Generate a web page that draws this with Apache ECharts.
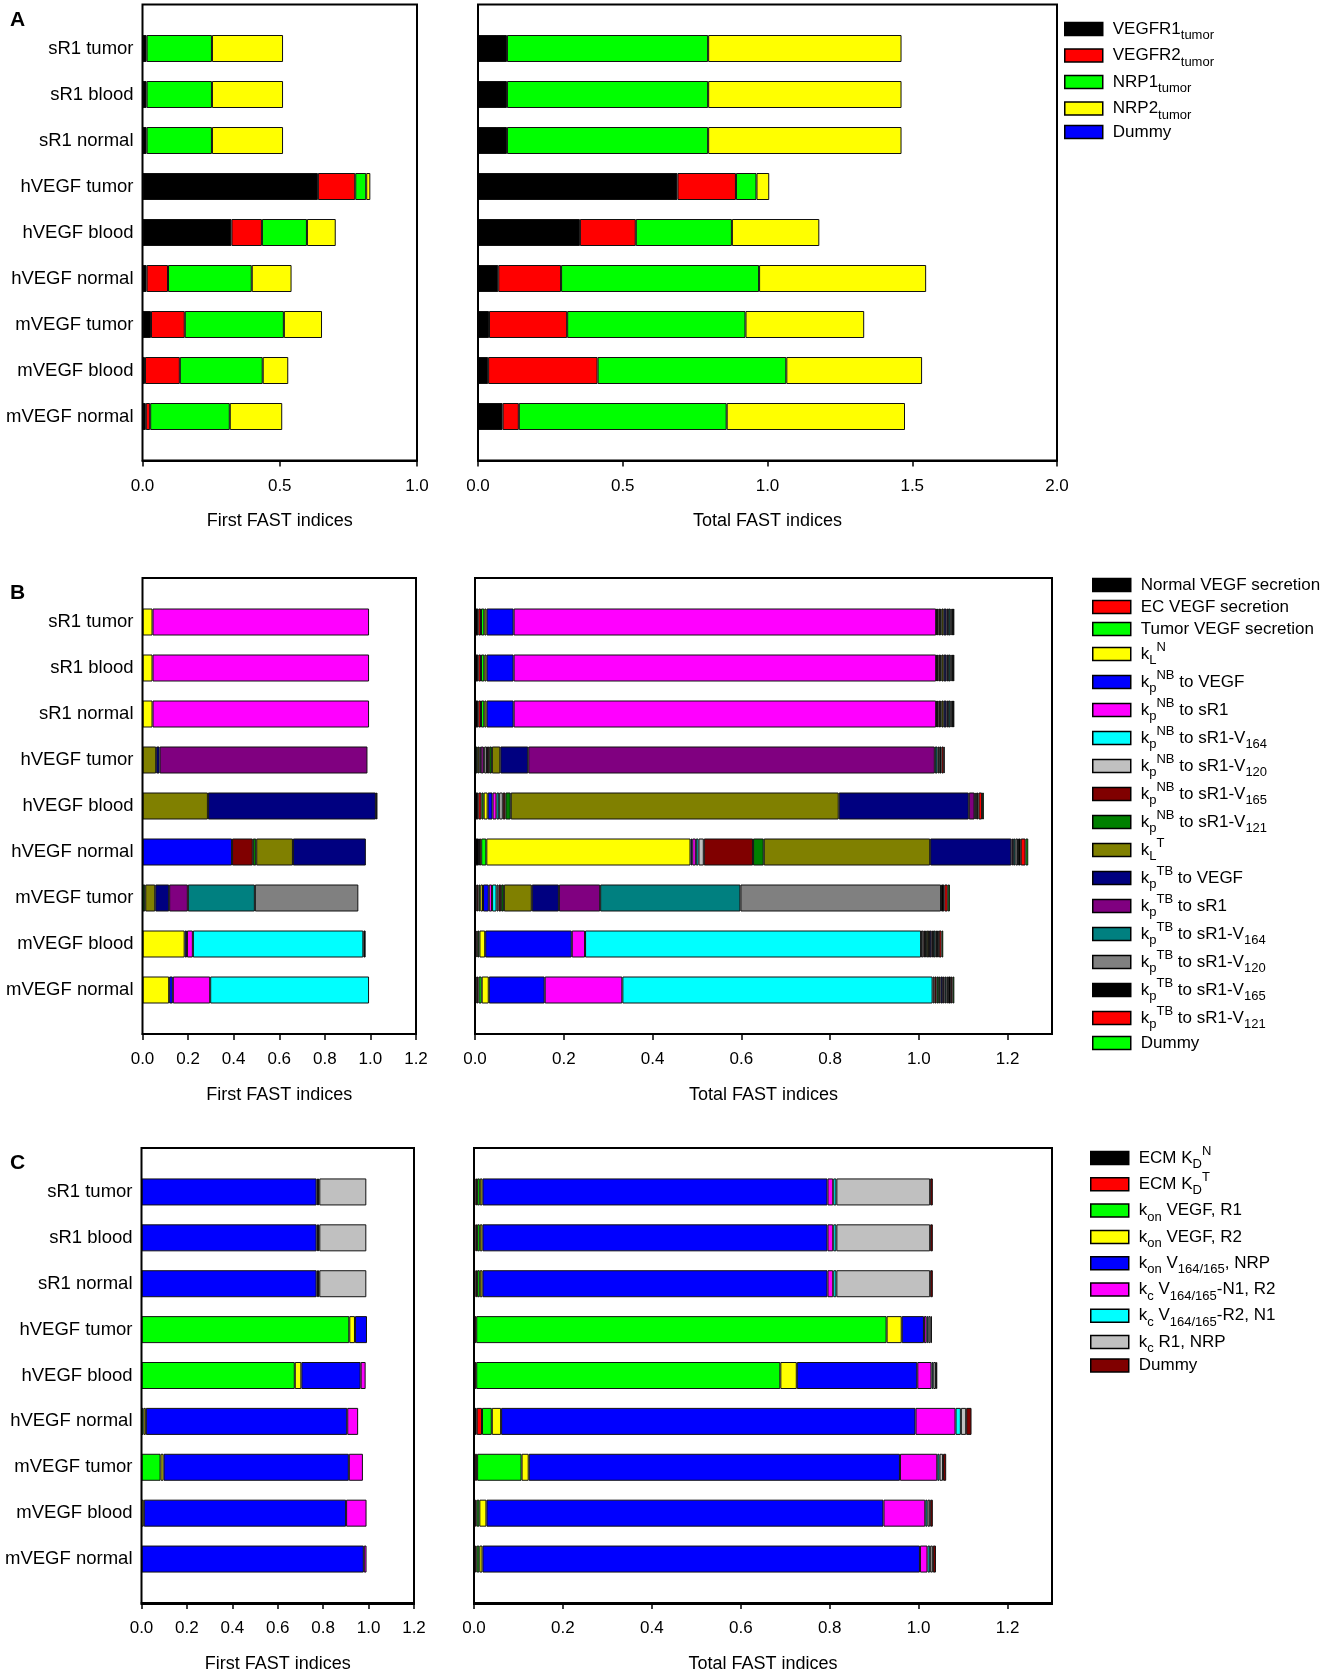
<!DOCTYPE html>
<html>
<head>
<meta charset="utf-8">
<title>FAST indices</title>
<script src="https://cdn.jsdelivr.net/npm/echarts@6/dist/echarts.min.js"></script>
<style>
  html, body { margin: 0; padding: 0; background: #fff; }
  #chart { width: 1323px; height: 1674px; }
</style>
</head>
<body>
<div id="chart"></div>
<script>
// rows of every chart, top to bottom
const categories = ['sR1 tumor', 'sR1 blood', 'sR1 normal', 'hVEGF tumor', 'hVEGF blood',
  'hVEGF normal', 'mVEGF tumor', 'mVEGF blood', 'mVEGF normal'];

// panel A: receptor densities
const namesA = ['VEGFR1{s|tumor}', 'VEGFR2{s|tumor}', 'NRP1{s|tumor}', 'NRP2{s|tumor}', 'Dummy'];
const colorsA = ['#000000', '#ff0000', '#00ff00', '#ffff00', '#0000ff'];
const firstA = [
  [0.015, 0, 0.238, 0.259, 0],
  [0.015, 0, 0.238, 0.259, 0],
  [0.015, 0, 0.238, 0.259, 0],
  [0.639, 0.136, 0.040, 0.015, 0],
  [0.324, 0.111, 0.164, 0.105, 0],
  [0.015, 0.078, 0.305, 0.145, 0],
  [0.031, 0.123, 0.361, 0.139, 0],
  [0.009, 0.127, 0.302, 0.093, 0],
  [0.012, 0.016, 0.290, 0.191, 0]
];
const totalA = [
  [0.100, 0, 0.695, 0.668, 0],
  [0.100, 0, 0.695, 0.668, 0],
  [0.100, 0, 0.695, 0.668, 0],
  [0.689, 0.202, 0.071, 0.044, 0],
  [0.352, 0.193, 0.332, 0.302, 0],
  [0.070, 0.217, 0.684, 0.577, 0],
  [0.038, 0.270, 0.616, 0.410, 0],
  [0.035, 0.378, 0.652, 0.469, 0],
  [0.085, 0.056, 0.718, 0.616, 0]
];

// panel B: secretion and permeability
const namesB = ['Normal VEGF secretion', 'EC VEGF secretion', 'Tumor VEGF secretion', 'k{s|L}{p|N}',
  'k{s|p}{p|NB} to VEGF', 'k{s|p}{p|NB} to sR1', 'k{s|p}{p|NB} to sR1-V{s|164}', 'k{s|p}{p|NB} to sR1-V{s|120}',
  'k{s|p}{p|NB} to sR1-V{s|165}', 'k{s|p}{p|NB} to sR1-V{s|121}', 'k{s|L}{p|T}',
  'k{s|p}{p|TB} to VEGF', 'k{s|p}{p|TB} to sR1', 'k{s|p}{p|TB} to sR1-V{s|164}', 'k{s|p}{p|TB} to sR1-V{s|120}',
  'k{s|p}{p|TB} to sR1-V{s|165}', 'k{s|p}{p|TB} to sR1-V{s|121}', 'Dummy'];
const colorsB = ['#000000', '#ff0000', '#00ff00', '#ffff00', '#0000ff', '#ff00ff', '#00ffff', '#c0c0c0',
  '#800000', '#008000', '#808000', '#000080', '#800080', '#008080', '#808080', '#000000', '#ff0000', '#00ff00'];
const firstB = [
  [0, 0, 0, 0.044, 0, 0.950, 0, 0, 0, 0, 0, 0, 0, 0, 0, 0, 0, 0],
  [0, 0, 0, 0.044, 0, 0.950, 0, 0, 0, 0, 0, 0, 0, 0, 0, 0, 0, 0],
  [0, 0, 0, 0.044, 0, 0.950, 0, 0, 0, 0, 0, 0, 0, 0, 0, 0, 0, 0],
  [0, 0, 0, 0, 0, 0, 0, 0, 0, 0, 0.060, 0.015, 0.912, 0, 0, 0, 0, 0],
  [0, 0, 0, 0, 0, 0, 0, 0, 0, 0, 0.287, 0.737, 0, 0, 0, 0.007, 0, 0],
  [0, 0, 0, 0, 0.393, 0, 0, 0, 0.091, 0.015, 0.161, 0.320, 0, 0, 0, 0, 0, 0],
  [0, 0, 0, 0, 0, 0, 0, 0, 0, 0.012, 0.044, 0.061, 0.082, 0.294, 0.454, 0, 0, 0],
  [0, 0, 0, 0.185, 0.010, 0.026, 0.748, 0, 0, 0, 0, 0, 0, 0, 0, 0.010, 0, 0],
  [0, 0, 0, 0.117, 0.016, 0.164, 0.697, 0, 0, 0, 0, 0, 0, 0, 0, 0, 0, 0]
];
const totalB = [
  [0.0075, 0.006, 0.0075, 0.005, 0.061, 0.952, 0.002, 0.003, 0.004, 0.003, 0.005, 0.006, 0.004, 0.005, 0.003, 0.003, 0.003, 0],
  [0.0075, 0.006, 0.0075, 0.005, 0.061, 0.952, 0.002, 0.003, 0.004, 0.003, 0.005, 0.006, 0.004, 0.005, 0.003, 0.003, 0.003, 0],
  [0.0075, 0.006, 0.0075, 0.005, 0.061, 0.952, 0.002, 0.003, 0.004, 0.003, 0.005, 0.006, 0.004, 0.005, 0.003, 0.003, 0.003, 0],
  [0.002, 0.001, 0.003, 0.004, 0.003, 0.006, 0.002, 0.006, 0.005, 0.006, 0.019, 0.063, 0.916, 0.006, 0.004, 0.005, 0.005, 0.002],
  [0.0075, 0.007, 0.005, 0.009, 0.011, 0.009, 0.006, 0.008, 0.006, 0.012, 0.739, 0.293, 0.013, 0.002, 0.003, 0.004, 0.008, 0.004],
  [0.009, 0.005, 0.0115, 0.460, 0.004, 0.008, 0.006, 0.012, 0.111, 0.024, 0.375, 0.183, 0.004, 0.005, 0.006, 0.006, 0.011, 0.006],
  [0.004, 0.004, 0.004, 0.006, 0.013, 0.0075, 0.010, 0.0045, 0.006, 0.006, 0.063, 0.061, 0.093, 0.316, 0.452, 0.0075, 0.0075, 0.005],
  [0.003, 0.003, 0.004, 0.013, 0.195, 0.030, 0.757, 0.005, 0.004, 0.004, 0.005, 0.005, 0.004, 0.005, 0.004, 0.004, 0.006, 0.004],
  [0.004, 0.004, 0.007, 0.016, 0.126, 0.175, 0.699, 0.004, 0.005, 0.005, 0.004, 0.005, 0.004, 0.004, 0.004, 0.006, 0.004, 0.004]
];

// panel C: binding kinetics
const namesC = ['ECM K{s|D}{p|N}', 'ECM K{s|D}{p|T}', 'k{s|on} VEGF, R1', 'k{s|on} VEGF, R2',
  'k{s|on} V{s|164/165}, NRP', 'k{s|c} V{s|164/165}-N1, R2', 'k{s|c} V{s|164/165}-R2, N1', 'k{s|c} R1, NRP', 'Dummy'];
const colorsC = ['#000000', '#ff0000', '#00ff00', '#ffff00', '#0000ff', '#ff00ff', '#00ffff', '#c0c0c0', '#800000'];
const firstC = [
  [0, 0, 0, 0, 0.771, 0.006, 0.006, 0.207, 0],
  [0, 0, 0, 0, 0.771, 0.006, 0.006, 0.207, 0],
  [0, 0, 0, 0, 0.771, 0.006, 0.006, 0.207, 0],
  [0, 0, 0.915, 0.025, 0.053, 0, 0, 0, 0],
  [0, 0, 0.675, 0.029, 0.261, 0.022, 0, 0, 0],
  [0, 0, 0.009, 0.010, 0.887, 0.048, 0, 0, 0],
  [0, 0, 0.084, 0.013, 0.816, 0.062, 0, 0, 0],
  [0, 0, 0, 0.010, 0.891, 0.090, 0, 0, 0],
  [0, 0, 0, 0, 0.979, 0.012, 0, 0, 0]
];
const totalC = [
  [0.003, 0.004, 0.006, 0.006, 0.776, 0.013, 0.007, 0.211, 0.006],
  [0.003, 0.004, 0.006, 0.006, 0.776, 0.013, 0.007, 0.211, 0.006],
  [0.003, 0.004, 0.006, 0.006, 0.776, 0.013, 0.007, 0.211, 0.006],
  [0.001, 0.004, 0.923, 0.034, 0.050, 0.006, 0.004, 0.005, 0.003],
  [0.001, 0.004, 0.684, 0.037, 0.271, 0.032, 0.004, 0.006, 0.003],
  [0.006, 0.012, 0.022, 0.021, 0.932, 0.090, 0.012, 0.012, 0.012],
  [0.002, 0.005, 0.100, 0.016, 0.835, 0.084, 0.005, 0.008, 0.007],
  [0.002, 0.004, 0.006, 0.016, 0.893, 0.094, 0.005, 0.006, 0.006],
  [0.002, 0.004, 0.006, 0.007, 0.984, 0.017, 0.006, 0.006, 0.007]
];

const FONT = 'Liberation Sans, Arial, sans-serif';

// frame box per panel; the category rows sit 21px inside the frame
const panels = [
  { key: 'A', names: namesA, colors: colorsA, first: firstA, total: totalA, frameTop: 4.5,
    left: [142.5, 417], right: [478, 1057], leftMax: 1, leftStep: 0.5, rightMax: 2, rightStep: 0.5,
    legend: { left: 1064, top: 16, gap: 0.5 } },
  { key: 'B', names: namesB, colors: colorsB, first: firstB, total: totalB, frameTop: 578,
    left: [142.5, 416], right: [475, 1052], leftMax: 1.2, leftStep: 0.2, rightMax: 1.3, rightStep: 0.2,
    legend: { left: 1092, top: 575, gap: 2 } },
  { key: 'C', names: namesC, colors: colorsC, first: firstC, total: totalC, frameTop: 1148,
    left: [141.5, 414], right: [474, 1052], leftMax: 1.2, leftStep: 0.2, rightMax: 1.3, rightStep: 0.2,
    legend: { left: 1090, top: 1145, gap: 0.3 } }
];

const grids = [], xAxes = [], yAxes = [], series = [], legends = [], graphics = [];

function addChart(p, range, max, step, rows, axisName, stackId, showCats) {
  const idx = grids.length;
  grids.push({ left: range[0], top: p.frameTop + 21, width: range[1] - range[0], height: 414 });
  xAxes.push({
    gridIndex: idx, type: 'value', min: 0, max: max, interval: step, offset: 21,
    axisLine: { show: true, lineStyle: { color: '#000', width: 2 } },
    axisTick: { show: true, length: 6, lineStyle: { color: '#000', width: 1.5 } },
    axisLabel: { margin: 17, fontSize: 17, color: '#000', fontFamily: FONT,
      showMaxLabel: max % step < 1e-9 || step - (max % step) < 1e-9,
      formatter: v => v.toFixed(1) },
    splitLine: { show: false },
    name: axisName, nameLocation: 'middle', nameGap: 52,
    nameTextStyle: { fontSize: 18, color: '#000', fontFamily: FONT }
  });
  yAxes.push({
    gridIndex: idx, type: 'category', data: categories, inverse: true,
    axisLine: { show: false }, axisTick: { show: false },
    axisLabel: { show: showCats, margin: 9, fontSize: 18.5, color: '#000', fontFamily: FONT }
  });
  p.names.forEach((n, i) => {
    series.push({
      type: 'bar', name: p.key + ':' + n, stack: stackId,
      xAxisIndex: idx, yAxisIndex: idx, barWidth: 27,
      itemStyle: { color: p.colors[i], borderColor: '#111', borderWidth: 1 },
      data: rows.map(r => (r[i] > 0 ? r[i] : null))
    });
  });
  graphics.push({
    type: 'rect', z: 100,
    shape: { x: range[0], y: p.frameTop, width: range[1] - range[0], height: 456 },
    style: { fill: null, stroke: '#000', lineWidth: 2 }
  });
}

panels.forEach(p => {
  addChart(p, p.left, p.leftMax, p.leftStep, p.first, 'First FAST indices', p.key + 'first', true);
  addChart(p, p.right, p.rightMax, p.rightStep, p.total, 'Total FAST indices', p.key + 'total', false);
  legends.push({
    orient: 'vertical', left: p.legend.left, top: p.legend.top, padding: 0,
    itemGap: p.legend.gap, itemWidth: 38, itemHeight: 13, icon: 'rect',
    selectedMode: false,
    data: p.names.map(n => p.key + ':' + n),
    formatter: n => n.slice(2),
    itemStyle: { borderColor: '#000', borderWidth: 1.5 },
    textStyle: {
      fontSize: 17, fontFamily: FONT, color: '#000', lineHeight: 20, padding: [0, 0, 0, 5],
      rich: {
        s: { fontSize: 13, fontFamily: FONT, color: '#000', height: 13, lineHeight: 26, verticalAlign: 'bottom' },
        p: { fontSize: 13, fontFamily: FONT, color: '#000', height: 13, lineHeight: 26, verticalAlign: 'top' }
      }
    }
  });
  graphics.push({
    type: 'text', left: 10, top: p.frameTop + 5,
    style: { text: p.key, font: 'bold 21px ' + FONT, fill: '#000' }
  });
});

const chart = echarts.init(document.getElementById('chart'), null, { renderer: 'canvas' });
chart.setOption({
  animation: false,
  backgroundColor: '#fff',
  grid: grids,
  xAxis: xAxes,
  yAxis: yAxes,
  legend: legends,
  series: series,
  graphic: graphics
});
</script>
</body>
</html>
